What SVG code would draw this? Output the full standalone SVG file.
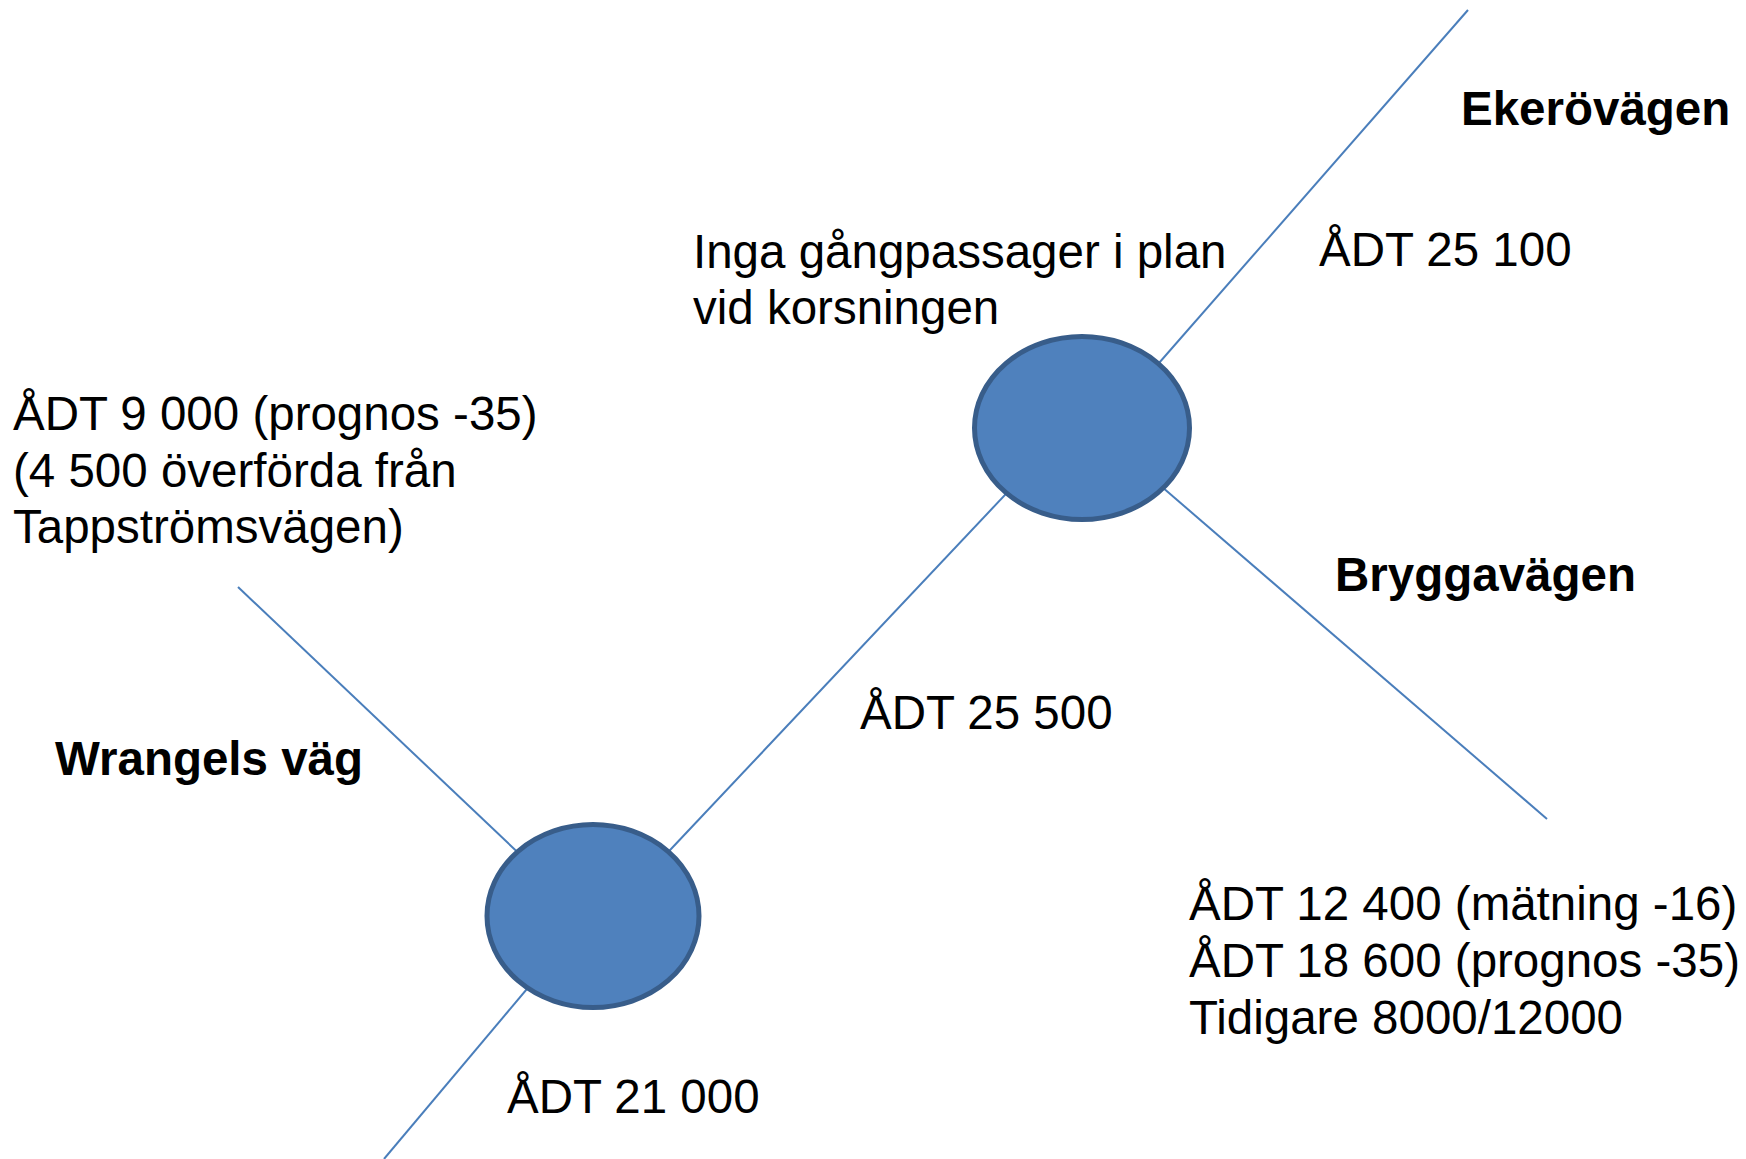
<svg xmlns="http://www.w3.org/2000/svg" width="1746" height="1159" viewBox="0 0 1746 1159">
<style>
.road{stroke:#4a7ebb;stroke-width:2;fill:none}
.node{fill:#4f81bd;stroke:#385d8a;stroke-width:5}
.t{font-family:"Liberation Sans",Arial,sans-serif;font-size:47.5px;fill:#000}
.b{font-weight:bold}
</style>
<rect width="1746" height="1159" fill="#fff"/>
<g id="connectors">
<line class="road" x1="1468" y1="10" x2="1131" y2="395"/>
<line class="road" x1="1020" y1="479" x2="655" y2="866"/>
<line class="road" x1="1547" y1="819" x2="1147" y2="474"/>
<line class="road" x1="238" y1="587" x2="528" y2="862"/>
<line class="road" x1="384" y1="1159" x2="537" y2="977"/>
</g>
<g id="node-upper"><ellipse class="node" cx="1082" cy="428" rx="107.5" ry="91.5"/></g>
<g id="node-lower"><ellipse class="node" cx="593" cy="916" rx="106" ry="91.5"/></g>
<g id="labels">
<text class="t b" x="1461" y="125">Ekerövägen</text>
<text class="t" x="1319" y="266">ÅDT 25 100</text>
<text class="t" x="693" y="268">Inga gångpassager i plan</text>
<text class="t" x="693" y="324">vid korsningen</text>
<text class="t" x="13" y="430">ÅDT 9 000 (prognos -35)</text>
<text class="t" x="13" y="487">(4 500 överförda från</text>
<text class="t" x="13" y="543">Tappströmsvägen)</text>
<text class="t b" x="1335" y="591">Bryggavägen</text>
<text class="t" x="860" y="729">ÅDT 25 500</text>
<text class="t b" x="55" y="775">Wrangels väg</text>
<text class="t" x="1189" y="920">ÅDT 12 400 (mätning -16)</text>
<text class="t" x="1189" y="977">ÅDT 18 600 (prognos -35)</text>
<text class="t" x="1189" y="1034">Tidigare 8000/12000</text>
<text class="t" x="507" y="1113">ÅDT 21 000</text>
</g>
</svg>
